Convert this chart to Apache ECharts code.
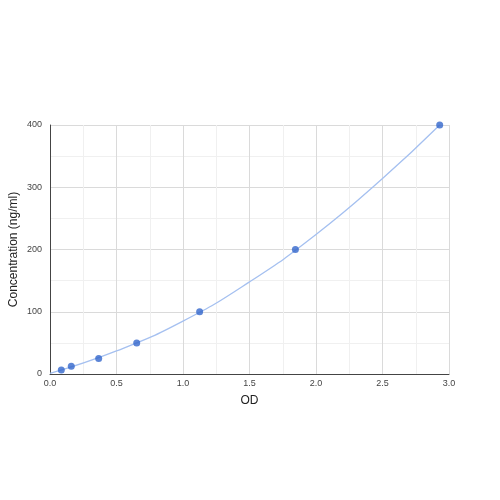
<!DOCTYPE html>
<html>
<head>
<meta charset="utf-8">
<script src="https://cdn.jsdelivr.net/npm/echarts@6/dist/echarts.min.js"></script>
<style>
    html, body { margin: 0; padding: 0; background: #fff; }
    #chart { width: 500px; height: 500px; }
</style>
</head>
<body>
<div id="chart"></div>
<script>
// standard points (OD, concentration)
var odValues = [0.085, 0.16, 0.366, 0.652, 1.125, 1.845, 2.93];
var concValues = [6.25, 12.5, 25, 50, 100, 200, 400];
// fitted curve
var curveOd = [0, 0.5, 1.0, 1.5, 2.0, 2.5, 2.93];
var curveConc = [1, 37, 85, 148, 224, 314, 400];

(function () {
    var myChart = echarts.init(document.getElementById('chart'));

    var points = odValues.map(function (v, i) { return [v, concValues[i]]; });
    var curve = curveOd.map(function (v, i) { return [v, curveConc[i]]; });

    var option = {
        animation: false,
        grid: {
            left: 50,
            right: 51,
            top: 125,
            bottom: 126,
            containLabel: false,
            outerBoundsMode: 'none'
        },
        xAxis: {
            type: 'value',
            min: 0,
            max: 3,
            interval: 0.5,
            name: 'OD',
            nameLocation: 'middle',
            nameGap: 21,
            nameMoveOverlap: false,
            nameTextStyle: { color: '#222', fontSize: 12, fontFamily: 'Arial, Liberation Sans' },
            axisLine: { lineStyle: { color: '#444', width: 1 } },
            axisTick: { show: false },
            axisLabel: {
                color: '#444', fontSize: 9, margin: 5, fontFamily: 'Arial, Liberation Sans',
                formatter: function (v) { return v.toFixed(1); }
            },
            splitLine: { lineStyle: { color: '#dadada' } },
            minorTick: { show: false, splitNumber: 2 },
            minorSplitLine: { show: true, lineStyle: { color: '#f0f0f0' } }
        },
        yAxis: {
            type: 'value',
            min: 0,
            max: 400,
            interval: 100,
            name: 'Concentration (ng/ml)',
            nameLocation: 'middle',
            nameGap: 30,
            nameMoveOverlap: false,
            nameTextStyle: { color: '#222', fontSize: 12, fontFamily: 'Arial, Liberation Sans' },
            axisLine: { show: true, lineStyle: { color: '#444', width: 1 } },
            axisTick: { show: false },
            axisLabel: { color: '#444', fontSize: 9, margin: 8, fontFamily: 'Arial, Liberation Sans' },
            splitLine: { lineStyle: { color: '#dadada' } },
            minorTick: { show: false, splitNumber: 2 },
            minorSplitLine: { show: true, lineStyle: { color: '#f0f0f0' } }
        },
        series: [{
            name: 'trend',
            type: 'line',
            smooth: true,
            showSymbol: false,
            lineStyle: { color: '#a5c0f0', width: 1.3 },
            data: curve,
            z: 2
        }, {
            name: 'standard',
            type: 'scatter',
            symbolSize: 7,
            itemStyle: { color: '#3366cc' },
            data: points,
            z: 3
        }]
    };

    myChart.setOption(option);
})();
</script>
</body>
</html>
